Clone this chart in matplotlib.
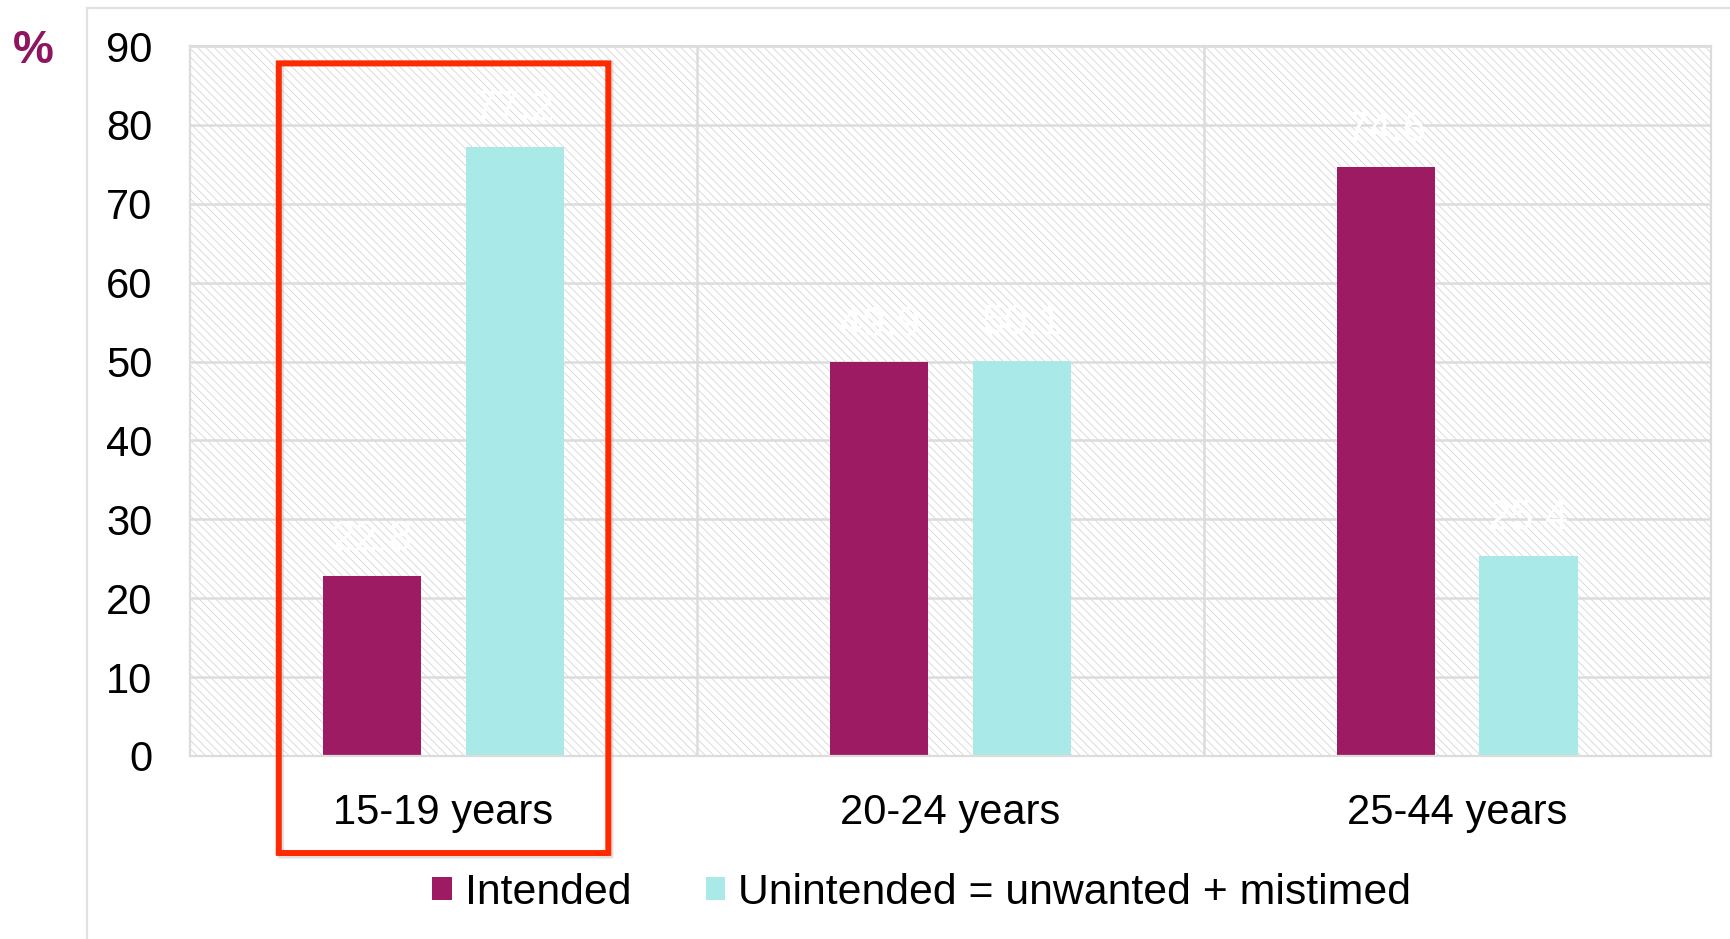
import matplotlib.pyplot as plt
import matplotlib.patches as mpatches
from matplotlib.lines import Line2D
import numpy as np

plt.rcParams['font.family'] = ['Liberation Sans', 'DejaVu Sans']

groups = ['15-19 years', '20-24 years', '25-44 years']
intended = [22.8, 49.9, 74.6]
unintended = [77.2, 50.1, 25.4]
series_names = ['Intended', 'Unintended = unwanted + mistimed']
yticks = [0, 10, 20, 30, 40, 50, 60, 70, 80, 90]

purple = '#9C1B62'
cyan = '#A9E9E8'
grid_col = '#dcdcdc'
fs = 30

fig = plt.figure(figsize=(17.31, 9.39), dpi=100)
ax = fig.add_axes([0.1098, 0.1949, 0.8786, 0.7561])

# outer chart frame
fig.add_artist(Line2D([87 / 1731, 87 / 1731], [0, 931 / 939], color='#e2e2e2', lw=1.6))
fig.add_artist(Line2D([87 / 1731, 1], [931 / 939, 931 / 939], color='#e2e2e2', lw=1.6))

x = np.arange(len(groups))
w = 0.194
off = 0.1405

ax.set_xlim(-0.5, 2.5)
ax.set_ylim(0, 90)

# fine diagonal hatching behind the bars
plt.rcParams['hatch.linewidth'] = 0.5
bg = mpatches.Rectangle((0, 0), 1, 1, transform=ax.transAxes, facecolor='white',
                        edgecolor='#cfcfcf', hatch='\\' * 4, lw=0, zorder=0)
ax.add_patch(bg)

ax.set_axisbelow(True)
ax.yaxis.grid(True, color=grid_col, lw=1.8, zorder=0.5)
for xv in [0.5, 1.5]:
    ax.axvline(xv, color=grid_col, lw=1.8, zorder=0.5)

b1 = ax.bar(x - off, intended, w, color=purple, label=series_names[0], zorder=2)
b2 = ax.bar(x + off, unintended, w, color=cyan, label=series_names[1], zorder=2)

for bars, vals in [(b1, intended), (b2, unintended)]:
    for rect, v in zip(bars, vals):
        ax.annotate(f'{v:.1f}', (rect.get_x() + rect.get_width() / 2, v),
                    xytext=(0, 27), textcoords='offset points', ha='center', va='center',
                    fontsize=fs, color='white', zorder=3)

for s in ax.spines.values():
    s.set_color(grid_col)
    s.set_linewidth(1.6)

ax.set_yticks(yticks)
ax.set_xticks(x)
ax.set_xticklabels(groups)
ax.tick_params(axis='both', length=0, labelsize=fs)
ax.tick_params(axis='y', pad=27)
ax.tick_params(axis='x', pad=27)

# highlight box around the first age group
shadow = mpatches.FancyBboxPatch((-0.325 + 0.004, -12.6), 0.65, 100.4,
                                 boxstyle='round,pad=0,rounding_size=0.006',
                                 fill=False, edgecolor='#bbbbbb', lw=4.5, alpha=0.45,
                                 clip_on=False, zorder=4)
ax.add_patch(shadow)
box = mpatches.FancyBboxPatch((-0.325, -12.3), 0.65, 100.1,
                              boxstyle='round,pad=0,rounding_size=0.006',
                              fill=False, edgecolor='#FF2A00', lw=4.3,
                              clip_on=False, zorder=5)
ax.add_patch(box)

fig.text(33 / 1731, 1 - 51 / 939, '%', color='#8E1560', fontsize=33, fontweight='bold',
         ha='center', va='center')

fig.legend(handles=[b1, b2], labels=series_names, loc='center',
           bbox_to_anchor=(0.5325, 0.049), ncol=2, frameon=False, fontsize=30.8,
           handlelength=0.45, handleheight=0.45, handletextpad=0.3, columnspacing=1.75)

plt.savefig('out.png', dpi=100)
